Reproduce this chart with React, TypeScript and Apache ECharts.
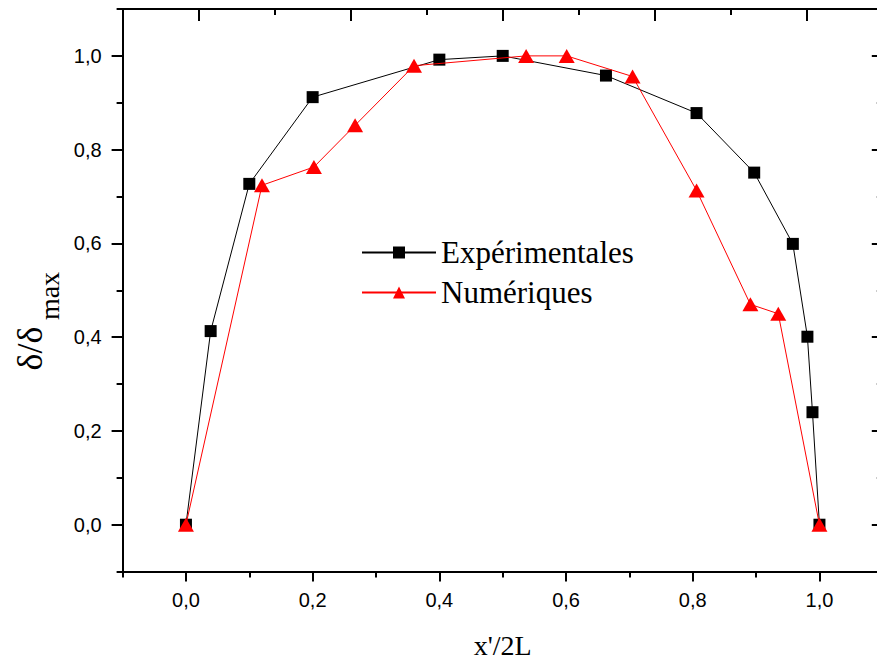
import React, { useEffect, useRef } from "react";
import * as echarts from "echarts";

// Experimental data (squares)
const expX = [0, 0.039, 0.1, 0.2, 0.4, 0.5, 0.663, 0.806, 0.897, 0.958, 0.981, 0.989, 1.0];
const expY = [0, 0.413, 0.727, 0.912, 0.992, 1.0, 0.958, 0.878, 0.751, 0.599, 0.401, 0.24, 0.0];

// Numerical data (triangles)
const numX = [0, 0.12, 0.202, 0.267, 0.36, 0.537, 0.601, 0.705, 0.806, 0.891, 0.935, 1.0];
const numY = [0, 0.724, 0.763, 0.852, 0.979, 1.0, 1.0, 0.956, 0.713, 0.47, 0.45, 0.0];

const seriesNames = ["Expérimentales", "Numériques"];

// Tick values
const xMajorTicks = [0, 0.2, 0.4, 0.6, 0.8, 1.0];
const xMinorTicks = [-0.1, 0.1, 0.3, 0.5, 0.7, 0.9];
const yMajorTicks = [0, 0.2, 0.4, 0.6, 0.8, 1.0];
const yMinorTicks = [-0.1, 0.1, 0.3, 0.5, 0.7, 0.9, 1.1];
const topMajorTicks = [1, 3, 5, 7, 9];
const topMinorTicks = [2, 4, 6, 8];

const xTitle = "x'/2L";
const yTitleMain = "δ/δ";
const yTitleSub = "max";

const SERIF = '"Liberation Serif", "Times New Roman", serif';
const SANS = '"Liberation Sans", Arial, sans-serif';

const fmt = (v: number) => v.toFixed(1).replace(".", ",");

export default function App() {
  const ref = useRef<HTMLDivElement>(null);

  useEffect(() => {
    if (!ref.current) return;
    const chart = echarts.init(ref.current, undefined, { renderer: "svg" });

    const axisLineStyle = { color: "#000", width: 2 };
    const noSplit = { show: false };

    const xAxisBase = { type: "value", min: -0.1, max: 1.1, splitLine: noSplit };
    const yAxisBase = { type: "value", min: -0.1, max: 1.1, splitLine: noSplit };

    const option: any = {
      animation: false,
      backgroundColor: "#ffffff",
      grid: {
        left: 122.6,
        top: 9,
        width: 760.2,
        height: 562.6,
        containLabel: false,
        outerBoundsMode: "none",
      },
      legend: {
        orient: "vertical",
        left: 361,
        top: 237,
        padding: 0,
        itemWidth: 74,
        itemHeight: 15,
        itemGap: 9,
        textStyle: {
          fontFamily: SERIF,
          fontSize: 31,
          lineHeight: 30,
          color: "#000",
        },
        data: seriesNames,
      },
      xAxis: [
        {
          ...xAxisBase,
          position: "bottom",
          name: xTitle,
          nameLocation: "middle",
          nameGap: 61,
          nameTextStyle: { fontFamily: SERIF, fontSize: 28, lineHeight: 26, color: "#000" },
          axisLine: { show: true, onZero: false, lineStyle: axisLineStyle },
          axisTick: {
            show: true,
            inside: false,
            length: 10,
            customValues: xMajorTicks,
            lineStyle: { color: "#000", width: 2 },
          },
          axisLabel: {
            show: true,
            customValues: xMajorTicks,
            formatter: fmt,
            margin: 18,
            fontFamily: SANS,
            fontSize: 20,
            color: "#000",
          },
        },
        {
          ...xAxisBase,
          position: "bottom",
          axisLine: { show: false, onZero: false },
          axisTick: {
            show: true,
            inside: false,
            length: 6,
            customValues: xMinorTicks,
            lineStyle: { color: "#000", width: 2 },
          },
          axisLabel: { show: false },
        },
        {
          type: "value",
          min: 0,
          max: 10,
          position: "top",
          splitLine: noSplit,
          axisLine: { show: true, onZero: false, lineStyle: axisLineStyle },
          axisTick: {
            show: true,
            inside: true,
            length: 12,
            customValues: topMajorTicks,
            lineStyle: { color: "#000", width: 2 },
          },
          axisLabel: { show: false },
        },
        {
          type: "value",
          min: 0,
          max: 10,
          position: "top",
          splitLine: noSplit,
          axisLine: { show: false, onZero: false },
          axisTick: {
            show: true,
            inside: true,
            length: 6,
            customValues: topMinorTicks,
            lineStyle: { color: "#000", width: 2 },
          },
          axisLabel: { show: false },
        },
      ],
      yAxis: [
        {
          ...yAxisBase,
          position: "left",
          axisLine: { show: true, onZero: false, lineStyle: axisLineStyle },
          axisTick: {
            show: true,
            inside: false,
            length: 11,
            customValues: yMajorTicks,
            lineStyle: { color: "#000", width: 2 },
          },
          axisLabel: {
            show: true,
            customValues: yMajorTicks,
            formatter: fmt,
            margin: 21,
            fontFamily: SANS,
            fontSize: 20,
            color: "#000",
          },
        },
        {
          ...yAxisBase,
          position: "left",
          axisLine: { show: false, onZero: false },
          axisTick: {
            show: true,
            inside: false,
            length: 6,
            customValues: yMinorTicks,
            lineStyle: { color: "#000", width: 2 },
          },
          axisLabel: { show: false },
        },
        {
          ...yAxisBase,
          position: "right",
          axisLine: { show: true, onZero: false, lineStyle: axisLineStyle },
          axisTick: {
            show: true,
            inside: true,
            length: 11,
            customValues: yMajorTicks,
            lineStyle: { color: "#000", width: 2 },
          },
          axisLabel: { show: false },
        },
        {
          ...yAxisBase,
          position: "right",
          axisLine: { show: false, onZero: false },
          axisTick: {
            show: true,
            inside: true,
            length: 6,
            customValues: yMinorTicks,
            lineStyle: { color: "#000", width: 2 },
          },
          axisLabel: { show: false },
        },
      ],
      series: [
        {
          name: seriesNames[0],
          type: "line",
          xAxisIndex: 0,
          yAxisIndex: 0,
          data: expX.map((x, i) => [x, expY[i]]),
          symbol: "rect",
          symbolSize: 12,
          showAllSymbol: true,
          itemStyle: { color: "#000" },
          lineStyle: { color: "#000", width: 1 },
          z: 2,
        },
        {
          name: seriesNames[1],
          type: "line",
          xAxisIndex: 0,
          yAxisIndex: 0,
          data: numX.map((x, i) => [x, numY[i]]),
          symbol: "triangle",
          symbolSize: [16, 14],
          showAllSymbol: true,
          itemStyle: { color: "#ff0000" },
          lineStyle: { color: "#ff0000", width: 1 },
          z: 3,
        },
      ],
      graphic: [
        {
          type: "text",
          x: 30,
          y: 348.5,
          rotation: Math.PI / 2,
          style: {
            text: yTitleMain,
            fontFamily: SERIF,
            fontSize: 36,
            fill: "#000",
            align: "center",
            verticalAlign: "middle",
          },
        },
        {
          type: "text",
          x: 49,
          y: 296,
          rotation: Math.PI / 2,
          style: {
            text: yTitleSub,
            fontFamily: SERIF,
            fontSize: 28,
            fill: "#000",
            align: "center",
            verticalAlign: "middle",
          },
        },
      ],
    };

    chart.setOption(option);
    return () => {
      chart.dispose();
    };
  }, []);

  return (
    <div
      ref={ref}
      style={{
        position: "absolute",
        left: 0,
        top: 0,
        width: 877,
        height: 663,
        background: "#fff",
      }}
    />
  );
}
